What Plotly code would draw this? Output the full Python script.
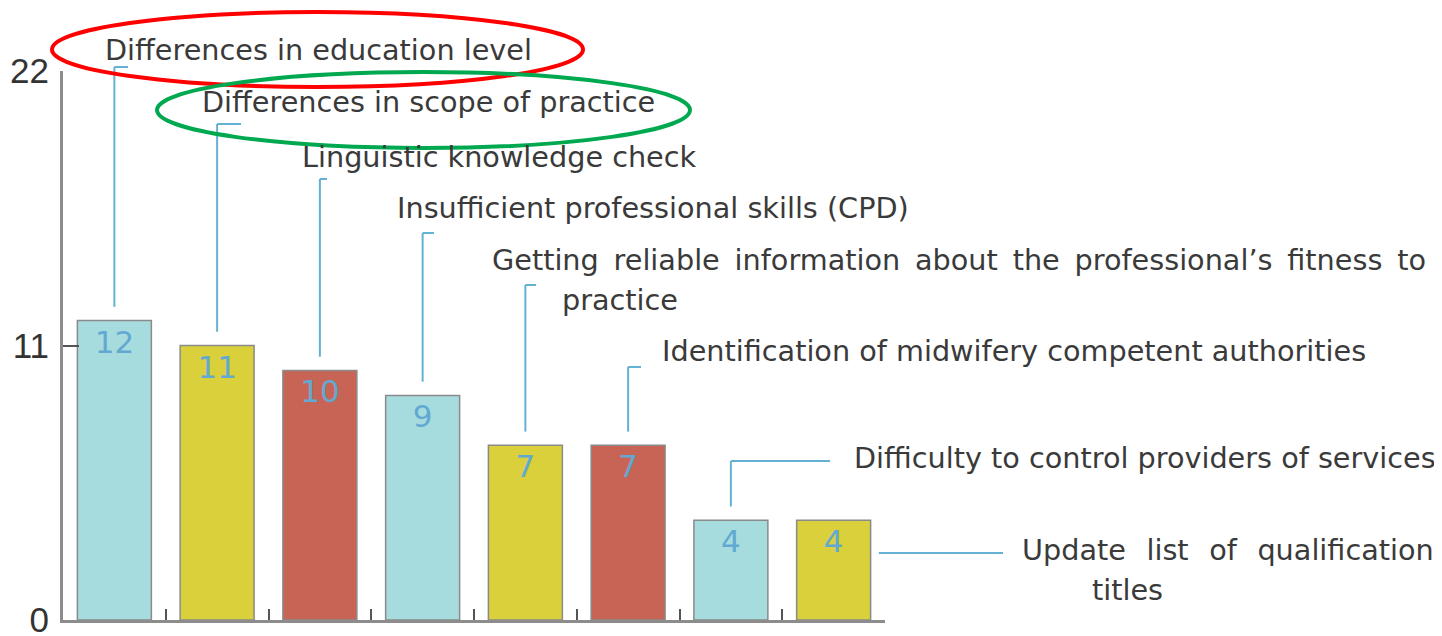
import plotly.graph_objects as go

# ---------------- data ----------------
categories = [
    "Differences in education level",
    "Differences in scope of practice",
    "Linguistic knowledge check",
    "Insufficient professional skills (CPD)",
    "Getting reliable information about the professional’s fitness to practice",
    "Identification of midwifery competent authorities",
    "Difficulty to control providers of services",
    "Update list of qualification titles",
]
values = [12, 11, 10, 9, 7, 7, 4, 4]
bar_colors = ["#a7dcdf", "#d9d03b", "#c86455", "#a7dcdf", "#d9d03b", "#c86455", "#a7dcdf", "#d9d03b"]
ytick_vals = [0, 11, 22]
ytick_text = ["0", "11", "22"]
label_lines = [
    ["Differences in education level"],
    ["Differences in scope of practice"],
    ["Linguistic knowledge check"],
    ["Insufficient professional skills (CPD)"],
    ["Getting reliable information about the professional’s fitness to", "practice"],
    ["Identification of midwifery competent authorities"],
    ["Difficulty to control providers of services"],
    ["Update list of qualification", "titles"],
]

# ---------------- layout geometry (screen pixels of the reference) ----------------
OFF = 8                       # page body margin of the browser
W, H = 1442, 636
PL, PR, PT, PB = 63, 885, 71, 620  # plot area edges (screen px)
N = len(categories)
YMAX = 22
BARGAP = 0.28


def px_to_paper_x(px):
    return (px - PL) / (PR - PL)


def py_to_paper_y(py):
    return (PB - py) / (PB - PT)


def dx_to_paper(x):
    return (x + 0.5) / N


def dy_to_paper(y):
    return y / YMAX


# label positions: (left x px, centre y px) per line, and extra word spacing (thin spaces per gap)
label_pos = [
    [(103, 50)],
    [(200, 102)],
    [(300, 157)],
    [(395, 208)],
    [(490, 260), (560, 300)],
    [(660, 351)],
    [(852, 458)],
    [(1020, 550), (1090, 590)],
]
label_extra = [[0], [0], [0], [0], [1, 0], [0], [0], [2, 0]]
# leader line: (top y px, hook end x px)
leader = [(67, 128), (124, 241), (179, 327), (233, 434), (285, 536), (367, 641), (461, 830), None]

LINE_COL = "#63b1d3"
TEXT_COL = "#3a3a3a"
FONT = "DejaVu Sans"

fig = go.Figure()
fig.add_trace(go.Bar(
    x=categories,
    y=values,
    marker=dict(color=bar_colors, line=dict(color="#8a8a8a", width=1.5)),
    text=[str(v) for v in values],
    textposition="inside",
    insidetextanchor="end",
    textangle=0,
    textfont=dict(family=FONT, size=31, color="#62a9d1"),
    constraintext="none",
    hoverinfo="skip",
))

shapes = []
for i, v in enumerate(values):
    if leader[i] is None:
        continue
    top_py, hook_px = leader[i]
    xp = dx_to_paper(i)
    shapes.append(dict(type="line", xref="paper", yref="paper",
                       x0=xp, x1=xp, y0=dy_to_paper(v + 0.55), y1=py_to_paper_y(top_py),
                       line=dict(color=LINE_COL, width=2)))
    shapes.append(dict(type="line", xref="paper", yref="paper",
                       x0=xp, x1=px_to_paper_x(hook_px), y0=py_to_paper_y(top_py), y1=py_to_paper_y(top_py),
                       line=dict(color=LINE_COL, width=2)))
# last bar: horizontal leader to the right
i_last = N - 1
x_start = i_last + (1 - BARGAP) / 2 + 0.08
shapes.append(dict(type="line", xref="paper", yref="paper",
                   x0=dx_to_paper(x_start), x1=px_to_paper_x(1003),
                   y0=py_to_paper_y(553), y1=py_to_paper_y(553),
                   line=dict(color=LINE_COL, width=2)))

# highlight ellipses
shapes.append(dict(type="circle", xref="paper", yref="paper",
                   x0=px_to_paper_x(52), x1=px_to_paper_x(583),
                   y0=py_to_paper_y(87), y1=py_to_paper_y(12),
                   line=dict(color="#ff0000", width=4)))
shapes.append(dict(type="circle", xref="paper", yref="paper",
                   x0=px_to_paper_x(157), x1=px_to_paper_x(690),
                   y0=py_to_paper_y(148), y1=py_to_paper_y(72),
                   line=dict(color="#00a84f", width=4)))


def spaced(line, extra):
    return line.replace(" ", " " + "\u2009" * extra) if extra else line


annotations = []
for i, lines in enumerate(label_lines):
    for line, (lx, ly), ex in zip(lines, label_pos[i], label_extra[i]):
        annotations.append(dict(
            text=spaced(line, ex), xref="paper", yref="paper",
            x=px_to_paper_x(lx), y=py_to_paper_y(ly),
            xanchor="left", yanchor="middle", showarrow=False,
            font=dict(family=FONT, size=28.7, color=TEXT_COL),
        ))

FW, FH = W - OFF, H - OFF
fig.update_layout(
    width=FW, height=FH,
    margin=dict(l=PL - OFF, r=FW - (PR - OFF), t=PT - OFF, b=FH - (PB - OFF), pad=0, autoexpand=False),
    paper_bgcolor="white", plot_bgcolor="white",
    bargap=BARGAP,
    showlegend=False,
    shapes=shapes,
    annotations=annotations,
    xaxis=dict(
        range=[-0.5, N - 0.5],
        automargin=False,
        showticklabels=False,
        showline=True, linecolor="#8c8c8c", linewidth=3,
        ticks="inside", tickson="boundaries", ticklen=11, tickwidth=2, tickcolor="#555555",
        showgrid=False, zeroline=False,
    ),
    yaxis=dict(
        range=[0, YMAX],
        automargin=False,
        tickvals=ytick_vals, ticktext=ytick_text,
        tickfont=dict(family="Liberation Sans", size=35, color="#333333"),
        ticklabelstandoff=4,
        ticklabeloverflow="allow",
        showline=True, linecolor="#8c8c8c", linewidth=3,
        ticks="inside", ticklen=16, tickwidth=2, tickcolor="#555555",
        showgrid=False, zeroline=False,
    ),
)

fig.write_html("out.html")
